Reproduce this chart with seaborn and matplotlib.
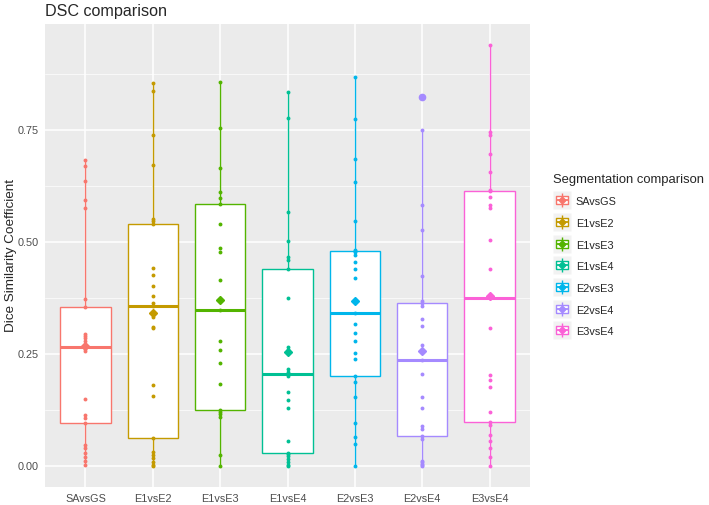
import matplotlib
matplotlib.use("Agg")
import matplotlib.pyplot as plt
from matplotlib.lines import Line2D
from matplotlib.legend_handler import HandlerTuple
from matplotlib.ticker import MultipleLocator
import seaborn as sns
import pandas as pd
import numpy as np

# Segmentation comparisons (x categories) and their DSC values
comparisons = ["SAvsGS", "E1vsE2", "E1vsE3", "E1vsE4", "E2vsE3", "E2vsE4", "E3vsE4"]

sa_vs_gs = [0.003, 0.010, 0.020, 0.030, 0.039, 0.047, 0.096, 0.106, 0.113, 0.150,
            0.256, 0.262, 0.265, 0.270, 0.280, 0.286, 0.290, 0.295, 0.354, 0.373,
            0.576, 0.593, 0.636, 0.670, 0.684]
e1_vs_e2 = [0.000, 0.003, 0.008, 0.017, 0.024, 0.031, 0.062, 0.157, 0.180, 0.308,
            0.310, 0.333, 0.357, 0.365, 0.380, 0.403, 0.427, 0.443, 0.540, 0.547,
            0.552, 0.673, 0.738, 0.837, 0.855]
e1_vs_e3 = [0.000, 0.025, 0.110, 0.117, 0.120, 0.125, 0.184, 0.230, 0.258, 0.280,
            0.348, 0.415, 0.478, 0.487, 0.540, 0.586, 0.598, 0.612, 0.666, 0.754,
            0.858]
e1_vs_e4 = [0.000, 0.002, 0.008, 0.016, 0.023, 0.027, 0.030, 0.056, 0.130, 0.147,
            0.166, 0.200, 0.206, 0.210, 0.216, 0.258, 0.265, 0.375, 0.439, 0.460,
            0.467, 0.503, 0.568, 0.778, 0.836]
e2_vs_e3 = [0.000, 0.050, 0.064, 0.095, 0.155, 0.188, 0.200, 0.239, 0.252, 0.280,
            0.297, 0.317, 0.342, 0.420, 0.440, 0.456, 0.470, 0.478, 0.480, 0.483,
            0.548, 0.635, 0.686, 0.775, 0.868]
e2_vs_e4 = [0.000, 0.002, 0.005, 0.009, 0.012, 0.061, 0.067, 0.082, 0.089, 0.129,
            0.154, 0.206, 0.237, 0.258, 0.270, 0.313, 0.328, 0.357, 0.365, 0.368,
            0.424, 0.527, 0.583, 0.750, 0.825]
e3_vs_e4 = [0.000, 0.020, 0.040, 0.055, 0.069, 0.092, 0.098, 0.121, 0.176, 0.193,
            0.203, 0.309, 0.374, 0.440, 0.505, 0.576, 0.583, 0.600, 0.613, 0.617,
            0.657, 0.696, 0.740, 0.746, 0.940]

colors = ["#F8766D", "#C49A00", "#53B400", "#00C094", "#00B6EB", "#A58AFF", "#FB61D7"]

values = [sa_vs_gs, e1_vs_e2, e1_vs_e3, e1_vs_e4, e2_vs_e3, e2_vs_e4, e3_vs_e4]
df = pd.concat([pd.DataFrame({"comparison": name, "dsc": vals})
                for name, vals in zip(comparisons, values)], ignore_index=True)

sns.set_style("darkgrid", {"axes.facecolor": "#EBEBEB", "grid.color": "white"})
plt.rcParams["font.family"] = ["Liberation Sans", "DejaVu Sans"]

fig = plt.figure(figsize=(7.09, 5.05), dpi=100)
ax = fig.add_axes([45 / 709, 18 / 505, 485 / 709, 463 / 505])

for name, col in zip(comparisons, colors):
    sub = df[df["comparison"] == name]
    sns.boxplot(data=sub, x="comparison", y="dsc", order=comparisons,
                color="white", linecolor=col, linewidth=1.0, width=0.75,
                showcaps=False, showmeans=True,
                meanprops=dict(marker="D", markersize=4.3, markerfacecolor=col,
                               markeredgecolor=col, zorder=5),
                medianprops=dict(color=col, linewidth=2.2),
                flierprops=dict(marker="o", markersize=4.5, markerfacecolor=col,
                                markeredgecolor=col),
                ax=ax)
    sns.stripplot(data=sub, x="comparison", y="dsc", order=comparisons, color=col,
                  jitter=False, size=2.8, linewidth=0, zorder=4, ax=ax)

# ggplot-like expansion of the y range
lo, hi = df["dsc"].min(), df["dsc"].max()
pad = 0.05 * (hi - lo)
ax.set_ylim(lo - pad, hi + pad)
ax.set_xlim(-0.6, len(comparisons) - 0.4)

ax.set_yticks([0, 0.25, 0.5, 0.75])
ax.set_yticklabels(["0.00", "0.25", "0.50", "0.75"])
ax.yaxis.set_minor_locator(MultipleLocator(0.125))
ax.grid(which="major", color="white", linewidth=1.1)
ax.grid(which="minor", axis="y", color="white", linewidth=0.5)
ax.tick_params(which="major", length=3, width=0.8, color="#333333",
               labelsize=7.8, labelcolor="#4D4D4D", pad=1.8)
ax.tick_params(which="minor", length=0)
for s in ax.spines.values():
    s.set_visible(False)

ax.set_xlabel("")
ax.set_ylabel("Dice Similarity Coefficient", fontsize=9.7, labelpad=0.5)
ax.set_title("DSC comparison", loc="left", fontsize=11.6, pad=6)

# legend keys drawn like ggplot boxplot keys
rect = [(-1, -0.67), (1, -0.67), (1, 0.67), (-1, 0.67), (-1, -0.67)]
handles = []
for col in colors:
    bg = Line2D([], [], marker="s", ms=12.5, mfc="#F2F2F2", mec="none", ls="None")
    wh = Line2D([], [], marker="|", ms=9.5, mew=1.0, color=col, ls="None")
    bx = Line2D([], [], marker=rect, ms=8.6, mfc="white", mec=col, mew=1.0, ls="None")
    md = Line2D([], [], marker="_", ms=8.6, mew=1.3, color=col, ls="None")
    mn = Line2D([], [], marker="D", ms=3.5, color=col, ls="None")
    handles.append((bg, wh, bx, md, mn))

ax.legend(handles, comparisons, handler_map={tuple: HandlerTuple(ndivide=1, pad=0)},
          title="Segmentation comparison", loc="upper left",
          bbox_to_anchor=(553 / 709, 1 - 174 / 505), bbox_transform=fig.transFigure,
          frameon=False, fontsize=7.8, title_fontsize=9.4, handlelength=1.65,
          handleheight=1.4, labelspacing=0.85, handletextpad=0.45, borderpad=0,
          borderaxespad=0, alignment="left")

fig.savefig("out.png", dpi=100)
